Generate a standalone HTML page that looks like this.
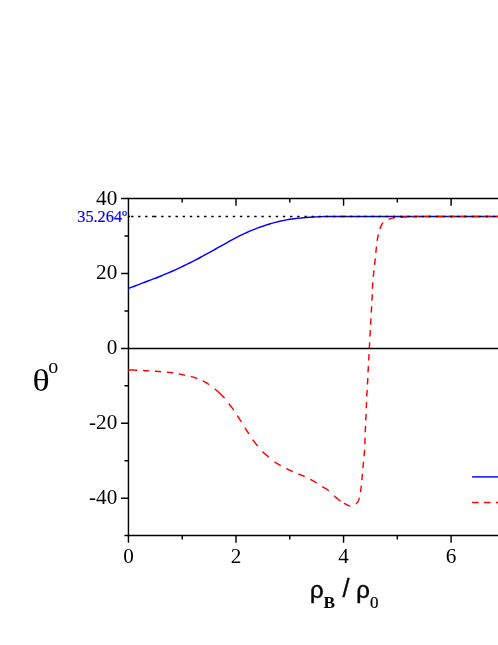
<!DOCTYPE html>
<html>
<head>
<meta charset="utf-8">
<title>theta vs rho_B / rho_0</title>
<style>
html,body{margin:0;padding:0;background:#fff;}
body{width:498px;height:645px;overflow:hidden;font-family:"Liberation Serif",serif;}
svg{display:block;will-change:transform;transform:translateZ(0);}
text{font-family:"Liberation Serif",serif;fill:#000;}
.ss{font-family:"Liberation Sans",sans-serif;}
</style>
</head>
<body>
<svg width="498" height="645" viewBox="0 0 498 645">
<rect x="0" y="0" width="498" height="645" fill="#ffffff"/>
<!-- frame -->
<path d="M502 198.45H128.45V535.40H502" fill="none" stroke="#000" stroke-width="1.45" stroke-linejoin="miter"/>
<path d="M128.45 535.40H124.45M128.45 498.16H121.05M128.45 460.72H124.45M128.45 423.28H121.05M128.45 385.84H124.45M128.45 348.40H121.05M128.45 310.96H124.45M128.45 273.52H121.05M128.45 236.08H124.45M128.45 198.45H121.05M128.45 535.40V542.80M182.22 535.40V539.40M182.22 198.45V202.45M236.00 535.40V542.80M236.00 198.45V205.85M289.77 535.40V539.40M289.77 198.45V202.45M343.55 535.40V542.80M343.55 198.45V205.85M397.32 535.40V539.40M397.32 198.45V202.45M451.10 535.40V542.80M451.10 198.45V205.85M504.88 535.40V539.40M504.88 198.45V202.45" fill="none" stroke="#000" stroke-width="1.45"/>
<!-- zero line -->
<path d="M128.45 348.40H502" fill="none" stroke="#000" stroke-width="1.45"/>
<!-- curves -->
<path d="M128.00 288.51L129.86 287.83L131.73 287.14L133.59 286.47L135.46 285.79L137.32 285.10L139.19 284.39L141.05 283.67L142.92 282.94L144.78 282.22L146.65 281.50L148.51 280.78L150.38 280.08L152.24 279.38L154.11 278.67L155.97 277.95L157.83 277.21L159.70 276.47L161.56 275.71L163.43 274.95L165.29 274.17L167.16 273.39L169.02 272.59L170.89 271.79L172.75 270.97L174.62 270.13L176.48 269.29L178.35 268.43L180.21 267.55L182.08 266.67L183.94 265.77L185.80 264.86L187.67 263.94L189.53 263.02L191.40 262.09L193.26 261.16L195.13 260.21L196.99 259.25L198.86 258.26L200.72 257.25L202.59 256.23L204.45 255.21L206.32 254.18L208.18 253.15L210.05 252.11L211.91 251.08L213.77 250.04L215.64 249.00L217.50 247.96L219.37 246.92L221.23 245.89L223.10 244.85L224.96 243.83L226.83 242.78L228.69 241.71L230.56 240.64L232.42 239.60L234.29 238.56L236.15 237.57L238.02 236.63L239.88 235.72L241.74 234.83L243.61 233.95L245.47 233.10L247.34 232.26L249.20 231.45L251.07 230.65L252.93 229.88L254.80 229.13L256.66 228.40L258.53 227.69L260.39 227.01L262.26 226.35L264.12 225.71L265.98 225.09L267.85 224.50L269.71 223.94L271.58 223.40L273.44 222.88L275.31 222.38L277.17 221.91L279.04 221.46L280.90 221.04L282.77 220.64L284.63 220.26L286.50 219.90L288.36 219.57L290.23 219.25L292.09 218.98L293.95 218.74L295.82 218.53L297.68 218.34L299.55 218.14L301.41 217.95L303.28 217.77L305.14 217.61L307.01 217.46L308.87 217.33L310.74 217.21L312.60 217.11L314.47 217.00L316.33 216.90L318.20 216.79L320.06 216.70L321.92 216.63L323.79 216.57L325.65 216.53L327.52 216.50L329.38 216.48L331.25 216.47L333.11 216.46L334.98 216.46L336.84 216.46L338.71 216.47L340.57 216.47L342.44 216.49L344.30 216.50L346.17 216.42L348.03 216.42L349.89 216.42L351.76 216.42L353.62 216.42L355.49 216.42L357.35 216.42L359.22 216.42L361.08 216.42L362.95 216.42L364.81 216.42L366.68 216.42L368.54 216.42L370.41 216.42L372.27 216.42L374.14 216.42L376.00 216.42L377.86 216.42L379.73 216.42L381.59 216.42L383.46 216.42L385.32 216.42L387.19 216.42L389.05 216.42L390.92 216.42L392.78 216.42L394.65 216.42L396.51 216.42L398.38 216.42L400.24 216.42L402.11 216.42L403.97 216.42L405.83 216.42L407.70 216.42L409.56 216.42L411.43 216.42L413.29 216.42L415.16 216.42L417.02 216.42L418.89 216.42L420.75 216.42L422.62 216.42L424.48 216.42L426.35 216.42L428.21 216.42L430.08 216.42L431.94 216.42L433.80 216.42L435.67 216.42L437.53 216.42L439.40 216.42L441.26 216.42L443.13 216.42L444.99 216.42L446.86 216.42L448.72 216.42L450.59 216.42L452.45 216.42L454.32 216.42L456.18 216.42L458.05 216.42L459.91 216.42L461.77 216.42L463.64 216.42L465.50 216.42L467.37 216.42L469.23 216.42L471.10 216.42L472.96 216.42L474.83 216.42L476.69 216.42L478.56 216.42L480.42 216.42L482.29 216.42L484.15 216.42L486.02 216.42L487.88 216.42L489.74 216.42L491.61 216.42L493.47 216.42L495.34 216.42L497.20 216.42L499.07 216.42" fill="none" stroke="#0000ff" stroke-width="1.45" stroke-linejoin="round"/>
<path d="M128.00 370.00L129.24 370.01L130.22 370.02L131.33 370.04L132.44 370.06L133.55 370.09L134.66 370.13L135.76 370.16L136.87 370.21L137.38 370.23M142.92 370.59L143.69 370.63L144.45 370.67L145.22 370.71L145.99 370.75L146.75 370.78L147.52 370.82L148.29 370.86L149.06 370.89L149.31 370.91M154.94 371.21L155.70 371.26L156.47 371.32L157.23 371.38L158.00 371.45L158.76 371.51L159.53 371.58L160.29 371.64L161.06 371.70L161.23 371.71M166.85 372.13L167.61 372.21L168.37 372.29L169.14 372.38L169.90 372.47L170.66 372.57L171.42 372.67L172.18 372.78L172.94 372.89L173.20 372.93M178.83 373.92L179.58 374.07L180.33 374.22L181.09 374.38L181.84 374.53L182.59 374.69L183.34 374.84L184.10 374.99L184.85 375.14L185.18 375.21M190.78 376.37L191.60 376.59L192.42 376.84L193.23 377.09L194.04 377.36L194.85 377.64L195.66 377.92L196.46 378.22L197.18 378.49M202.74 380.89L203.50 381.27L204.26 381.67L205.02 382.07L205.77 382.48L206.51 382.90L207.24 383.34L207.97 383.78L208.68 384.24L209.11 384.53M214.71 388.86L216.03 389.96L217.34 391.06L218.64 392.18L219.91 393.33L221.17 394.49L222.38 395.69L223.55 396.91L224.61 398.12M228.82 403.72L229.40 404.46L229.99 405.19L230.59 405.92L231.18 406.64L231.77 407.38L232.35 408.11L232.91 408.86L233.46 409.62L233.75 410.04M237.29 415.68L237.81 416.46L238.33 417.24L238.85 418.02L239.38 418.80L239.90 419.58L240.42 420.36L240.94 421.15L241.44 421.94L241.49 422.01M244.88 427.63L245.38 428.43L245.88 429.22L246.39 430.02L246.89 430.81L247.40 431.60L247.91 432.38L248.42 433.17L248.93 433.96M252.65 439.58L253.25 440.41L253.87 441.23L254.50 442.04L255.13 442.84L255.77 443.64L256.42 444.44L257.06 445.23L257.65 445.96M262.44 451.52L263.17 452.23L263.91 452.93L264.67 453.62L265.44 454.30L266.22 454.97L266.99 455.64L267.77 456.32L268.54 457.00L268.79 457.22M274.45 461.88L275.16 462.35L275.88 462.80L276.61 463.23L277.35 463.66L278.10 464.09L278.84 464.51L279.58 464.94L280.33 465.36L280.77 465.61M286.41 468.64L287.17 469.02L287.94 469.38L288.72 469.75L289.49 470.10L290.27 470.46L291.05 470.81L291.83 471.15L292.61 471.49L292.77 471.56M298.35 473.91L299.14 474.24L299.93 474.56L300.72 474.89L301.51 475.21L302.29 475.55L303.08 475.89L303.86 476.23L304.63 476.59L304.71 476.62M310.30 479.38L311.06 479.77L311.82 480.16L312.57 480.56L313.33 480.96L314.07 481.37L314.81 481.79L315.55 482.22L316.27 482.67L316.63 482.90M322.27 486.60L323.08 487.08L323.90 487.55L324.72 488.02L325.53 488.49L326.33 488.98L327.10 489.50L327.86 490.04L328.59 490.61L328.65 490.67M334.25 495.82L335.01 496.51L335.78 497.20L336.54 497.88L337.32 498.55L338.10 499.21L338.90 499.85L339.71 500.47L340.54 501.07L340.61 501.11M343.94 503.18L344.69 503.59L345.45 503.98L346.21 504.37L346.98 504.75L347.75 505.11L348.54 505.45L349.34 505.74L350.16 505.99L350.33 506.03M355.92 504.00L356.52 503.38L357.07 502.74L357.56 502.05L358.00 501.32L358.38 500.57L358.71 499.78L358.99 498.98L359.23 498.16L359.36 497.67M360.44 492.04L360.57 491.28L360.69 490.53L360.80 489.77L360.91 489.01L361.02 488.25L361.12 487.48L361.22 486.72L361.31 485.96L361.34 485.71M361.91 480.10L361.97 479.34L362.04 478.57L362.10 477.81L362.16 477.04L362.22 476.27L362.28 475.51L362.34 474.74L362.40 473.98L362.42 473.72M362.91 468.11L362.99 467.35L363.06 466.58L363.14 465.82L363.22 465.06L363.30 464.29L363.38 463.53L363.45 462.76L363.52 462.00L363.54 461.74M364.02 456.22L364.09 455.45L364.17 454.69L364.25 453.92L364.32 453.16L364.39 452.39L364.46 451.63L364.52 450.86L364.57 450.10L364.58 449.84M364.85 444.22L364.87 443.45L364.89 442.68L364.91 441.91L364.94 441.15L364.96 440.38L364.98 439.61L365.00 438.84L365.03 438.07L365.03 437.82M365.23 432.28L365.26 431.51L365.30 430.74L365.34 429.97L365.38 429.21L365.42 428.44L365.46 427.67L365.49 426.91L365.52 426.14L365.53 425.88M365.72 420.34L365.76 419.57L365.80 418.81L365.84 418.04L365.88 417.27L365.92 416.50L365.95 415.74L365.99 414.97L366.02 414.20L366.03 413.95M366.22 408.32L366.26 407.55L366.29 406.78L366.33 406.02L366.38 405.25L366.41 404.48L366.45 403.72L366.49 402.95L366.52 402.18L366.52 402.01M366.72 396.38L366.76 395.62L366.81 394.85L366.86 394.08L366.92 393.32L366.97 392.55L367.02 391.78L367.07 391.02L367.12 390.25L367.13 389.99M367.42 384.46L367.46 383.69L367.52 382.92L367.57 382.16L367.62 381.39L367.68 380.62L367.73 379.86L367.77 379.09L367.81 378.32L367.82 378.07M368.02 372.44L368.06 371.67L368.10 370.91L368.15 370.14L368.21 369.37L368.26 368.61L368.31 367.84L368.36 367.08L368.41 366.31L368.42 366.14M368.71 360.51L368.75 359.75L368.79 358.98L368.84 358.21L368.88 357.45L368.92 356.68L368.96 355.91L369.00 355.15L369.04 354.38L369.05 354.12M369.31 348.50L369.35 347.73L369.39 346.96L369.43 346.20L369.47 345.43L369.52 344.66L369.56 343.89L369.60 343.13L369.64 342.36L369.65 342.19M369.92 336.56L369.97 335.80L370.02 335.03L370.07 334.27L370.12 333.50L370.17 332.73L370.22 331.97L370.26 331.20L370.30 330.43L370.32 330.18M370.59 324.64L370.64 323.87L370.69 323.10L370.74 322.34L370.79 321.57L370.83 320.80L370.88 320.04L370.92 319.27L370.96 318.50L370.98 318.25M371.24 312.62L371.29 311.86L371.33 311.09L371.38 310.32L371.43 309.56L371.48 308.79L371.53 308.02L371.58 307.26L371.62 306.49L371.63 306.32M371.93 300.70L371.97 299.93L372.02 299.16L372.06 298.39L372.10 297.63L372.14 296.86L372.18 296.09L372.22 295.33L372.26 294.56L372.27 294.30M372.45 288.76L372.47 287.99L372.50 287.22L372.54 286.46L372.57 285.69L372.62 284.92L372.68 284.16L372.73 283.39L372.80 282.63L372.82 282.37M373.28 276.76L373.36 275.99L373.43 275.23L373.51 274.47L373.59 273.70L373.68 272.94L373.77 272.18L373.85 271.41L373.94 270.65L373.96 270.40M374.56 264.80L374.65 264.03L374.74 263.27L374.83 262.51L374.92 261.74L375.01 260.98L375.10 260.22L375.19 259.46L375.27 258.69L375.30 258.44M375.79 252.83L375.87 252.06L375.95 251.30L376.03 250.54L376.11 249.77L376.20 249.01L376.29 248.25L376.37 247.48L376.46 246.72L376.49 246.47M377.19 240.88L377.30 240.12L377.42 239.36L377.55 238.60L377.69 237.85L377.84 237.09L377.99 236.34L378.15 235.59L378.31 234.84L378.38 234.50M379.92 228.90L380.21 228.09L380.52 227.29L380.85 226.49L381.21 225.70L381.59 224.93L382.00 224.18L382.45 223.47L382.95 222.79L383.11 222.59M388.71 219.28L389.44 219.05L390.18 218.82L390.92 218.59L391.66 218.37L392.40 218.16L393.15 217.97L393.90 217.82L394.65 217.69L395.07 217.63M400.59 217.24L401.36 217.20L402.13 217.17L402.90 217.13L403.67 217.09L404.43 217.06L405.20 217.03L405.97 216.99L406.74 216.96L406.99 216.95M412.62 216.71L413.39 216.69L414.15 216.66L414.92 216.64L415.69 216.62L416.46 216.60L417.22 216.58L417.99 216.57L418.76 216.56L418.93 216.55M424.56 216.49L425.33 216.49L426.10 216.48L426.87 216.48L427.64 216.47L428.40 216.47L429.17 216.46L429.94 216.46L430.71 216.46L430.88 216.46M436.51 216.44L437.28 216.43L438.05 216.43L438.81 216.43L439.58 216.43L440.35 216.43L441.12 216.42L441.89 216.42L442.65 216.42L442.91 216.42M448.46 216.42L449.23 216.42L449.99 216.42L450.76 216.42L451.53 216.42L452.30 216.42L453.07 216.42L453.83 216.42L454.60 216.42L454.86 216.42M460.40 216.42L461.17 216.42L461.94 216.42L462.71 216.42L463.48 216.42L464.24 216.42L465.01 216.42L465.78 216.42L466.55 216.42L466.80 216.42M472.35 216.42L473.12 216.42L473.89 216.42L474.66 216.42L475.42 216.42L476.19 216.42L476.96 216.42L477.73 216.42L478.50 216.42L478.75 216.42M484.38 216.42L485.15 216.42L485.92 216.42L486.69 216.42L487.46 216.42L488.22 216.42L488.99 216.42L489.76 216.42L490.53 216.42L490.70 216.42M496.33 216.42L496.76 216.42L497.18 216.42L497.61 216.42L498.03 216.42L498.42 216.42L498.76 216.42L499.06 216.42L499.32 216.42L500.00 216.42" fill="none" stroke="#ff0000" stroke-width="1.45" stroke-linejoin="round"/>
<!-- reference dotted line at 35.264 -->
<path d="M131.1 216.42H154.5" fill="none" stroke="#000" stroke-width="1.5" stroke-dasharray="2.4 4.6"/>
<path d="M128.45 216.42H130"  fill="none" stroke="#000" stroke-width="1.5"/>
<path d="M154.0 216.42H342.7" fill="none" stroke="#000" stroke-width="1.5" stroke-dasharray="2.4 4.76"/>
<path d="M342.9 216.42H502" fill="none" stroke="#000" stroke-width="1.5" stroke-dasharray="2.4 4.74"/>
<!-- legend samples (cropped) -->
<path d="M472.1 476.9H502" fill="none" stroke="#0000ff" stroke-width="1.45"/>
<path d="M472.1 502.5H502" fill="none" stroke="#ff0000" stroke-width="1.45" stroke-dasharray="6.5 5.4"/>
<!-- tick labels -->
<g font-size="21.2"><text x="117.3" y="204.60" text-anchor="end">40</text><text x="117.3" y="279.27" text-anchor="end">20</text><text x="117.3" y="354.45" text-anchor="end">0</text><text x="117.3" y="428.98" text-anchor="end">-20</text><text x="117.3" y="504.21" text-anchor="end">-40</text><text x="128.45" y="562.5" text-anchor="middle">0</text><text x="236.00" y="562.5" text-anchor="middle">2</text><text x="343.55" y="562.5" text-anchor="middle">4</text><text x="451.10" y="562.5" text-anchor="middle">6</text></g>
<!-- 35.264 label -->
<text x="127.1" y="222.0" text-anchor="end" font-size="16.3" style="fill:#0000ff;stroke:#0000ff;stroke-width:0.2px">35.264&#186;</text>
<!-- y title -->
<text transform="translate(32.5 390.6) scale(1.12 1)" font-size="32">&#952;</text>
<text x="48.3" y="372.6" font-size="20">o</text>
<!-- x title -->
<g class="ss" font-size="24" style="stroke:#000;stroke-width:0.45px">
<text class="ss" x="310.0" y="597.6">&#961;</text>
<text class="ss" x="356.2" y="597.6">&#961;</text>
</g>
<text class="ss" x="342.4" y="597.4" font-size="25.3" style="stroke:#000;stroke-width:0.3px">/</text>
<text x="323.6" y="608.3" font-size="17.3" font-weight="bold">B</text>
<text x="370.1" y="608.4" font-size="17" style="stroke:#000;stroke-width:0.2px">0</text>
</svg>
</body>
</html>
